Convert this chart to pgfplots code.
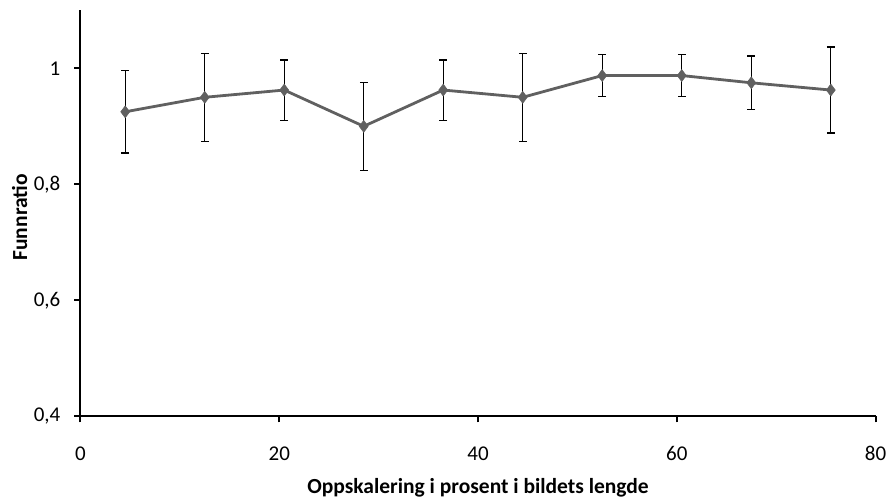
\documentclass[border=0pt]{standalone}
\usepackage{fontspec}
\setmainfont{Carlito}
\usepackage{pgfplots}
\pgfplotsset{compat=1.18}
\definecolor{linegray}{HTML}{606060}
\begin{document}
\begin{tikzpicture}
\begin{axis}[
  scale only axis, width=795pt, height=406pt,
  xmin=0, xmax=80, ymin=0.4, ymax=1.1,
  xtick={0,20,40,60,80}, ytick={0.4,0.6,0.8,1},
  axis lines*=left,
  axis line style={line width=2pt,black},
  tick style={line width=2pt,black},
  tick align=outside, major tick length=6pt,
  ticklabel style={/pgf/number format/assume math mode=true, /pgf/number format/use comma, font=\fontsize{21}{24}\selectfont},
  xticklabel style={anchor=center, inner sep=0pt, yshift=-31pt},
  yticklabel style={anchor=east, inner sep=0pt, xshift=-14pt},
  xlabel={Oppskalering i prosent i bildets lengde},
  ylabel={Funnratio},
  label style={font=\bfseries\fontsize{21.5}{24}\selectfont},
  xlabel style={at={(axis description cs:0.5,0)}, anchor=center, yshift=-71pt},
  ylabel style={at={(axis description cs:-0.0764,0.49)}, anchor=center},
  clip=false,
]
\addplot[color=linegray, line width=2.8pt, mark=diamond*, mark size=6pt,
  mark options={fill=linegray, draw=linegray, line width=0.5pt},
  error bars/.cd, y dir=both, y explicit,
  error bar style={black, line width=1.3pt},
  error mark options={black, mark size=3.8pt, line width=1.3pt, rotate=90}]
table[x=x, y=y, y error=e] {
x     y       e
4.5   0.925   0.071
12.5  0.95    0.076
20.5  0.9625  0.052
28.5  0.9     0.076
36.5  0.9625  0.052
44.5  0.95    0.076
52.5  0.9875  0.036
60.5  0.9875  0.036
67.5  0.975   0.046
75.5  0.9625  0.074
};
\coordinate (sw) at (rel axis cs:0,0);
\coordinate (ne) at (rel axis cs:1,1);
\end{axis}
\pgfresetboundingbox
\path ([shift={(-80.5pt,-87.7pt)}]sw) rectangle ([shift={(12.5pt,10.3pt)}]ne);
\end{tikzpicture}
\end{document}
